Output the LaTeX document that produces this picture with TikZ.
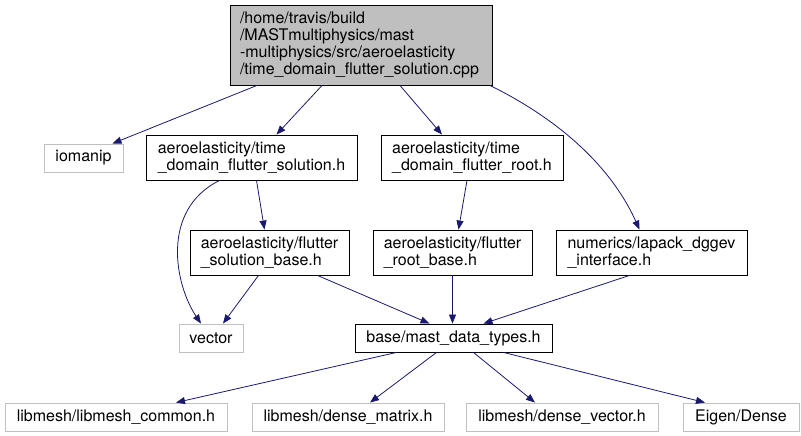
\documentclass[tikz,border=0pt]{standalone}
\usepackage{fontspec}
\setmainfont{TeX Gyre Heros}
\usetikzlibrary{arrows.meta}

\definecolor{edgeblue}{HTML}{191970}
\definecolor{rootgray}{HTML}{BFBFBF}
\definecolor{sysgray}{HTML}{C0C0C0}

\begin{document}
\begin{tikzpicture}[
        x=1pt, y=-1pt,
        file/.style={draw=black, rectangle, align=left, inner sep=0pt,
                     font=\fontsize{16}{17}\selectfont, line width=0.9pt},
        sysfile/.style={file, draw=sysgray},
        rootfile/.style={file, fill=rootgray, text width=242},
        arrow/.style={-{Triangle[length=9pt,width=7pt]}, draw=edgeblue,
                      line width=0.8pt}
    ]
        \useasboundingbox (0,0) rectangle (801,436);

        \node[rootfile, minimum width=262, minimum height=80] (root) at (361,45)
            {/home/travis/build\\/MASTmultiphysics/mast\\-multiphysics/src/aeroelasticity\\/time\_domain\_flutter\_solution.cpp};

        \node[sysfile, minimum width=79, minimum height=28] (iomanip) at (83.5,158) {iomanip};
        \node[file, minimum width=211, minimum height=45] (solution) at (251.5,157.5)
            {aeroelasticity/time\\\_domain\_flutter\_solution.h};
        \node[file, minimum width=182, minimum height=45] (root_h) at (472,157.5)
            {aeroelasticity/time\\\_domain\_flutter\_root.h};

        \node[file, minimum width=159, minimum height=45] (solbase) at (269.5,252.5)
            {aeroelasticity/flutter\\\_solution\_base.h};
        \node[file, minimum width=159, minimum height=45] (rootbase) at (452.5,252.5)
            {aeroelasticity/flutter\\\_root\_base.h};
        \node[file, minimum width=191, minimum height=45] (lapack) at (651.5,252.5)
            {numerics/lapack\_dggev\\\_interface.h};

        \node[sysfile, minimum width=64, minimum height=28] (vector) at (211,338) {vector};
        \node[file, minimum width=197, minimum height=28] (types) at (453.5,338) {base/mast\_data\_types.h};

        \node[sysfile, minimum width=222, minimum height=28] (common) at (116,417) {libmesh/libmesh\_common.h};
        \node[sysfile, minimum width=192, minimum height=28] (matrix) at (348,417) {libmesh/dense\_matrix.h};
        \node[sysfile, minimum width=192, minimum height=28] (dvector) at (562,417) {libmesh/dense\_vector.h};
        \node[sysfile, minimum width=116, minimum height=28] (eigen) at (741,417) {Eigen/Dense};

        % include edges
        \draw[arrow] ([xshift=-104pt]root.south) -- ([xshift=29pt]iomanip.north);
        \draw[arrow] ([xshift=-39pt]root.south) -- ([xshift=25pt]solution.north);
        \draw[arrow] ([xshift=39pt]root.south) -- ([xshift=-30pt]root_h.north);
        \draw[arrow] ([xshift=129pt]root.south) .. controls (570,125) and (615,175) .. ([xshift=-12pt]lapack.north);
        \draw[arrow] ([xshift=-32pt]solution.south) .. controls (160,210) and (175,285) .. ([xshift=-10pt]vector.north);
        \draw[arrow] ([xshift=5pt]solution.south) -- ([xshift=-5pt]solbase.north);
        \draw[arrow] ([xshift=-5pt]root_h.south) -- ([xshift=6pt]rootbase.north);
        \draw[arrow] ([xshift=-11pt]solbase.south) -- ([xshift=12pt]vector.north);
        \draw[arrow] ([xshift=48pt]solbase.south) -- ([xshift=-24pt]types.north);
        \draw[arrow] (rootbase.south) -- (rootbase.south |- types.north);
        \draw[arrow] ([xshift=-22pt]lapack.south) -- ([xshift=30pt]types.north);
        \draw[arrow] ([xshift=-57pt]types.south) -- ([xshift=60pt]common.north);
        \draw[arrow] ([xshift=-17pt]types.south) -- ([xshift=22pt]matrix.north);
        \draw[arrow] ([xshift=20pt]types.south) -- ([xshift=-27pt]dvector.north);
        \draw[arrow] ([xshift=50pt]types.south) -- ([xshift=-36pt]eigen.north);
    \end{tikzpicture}
\end{document}
